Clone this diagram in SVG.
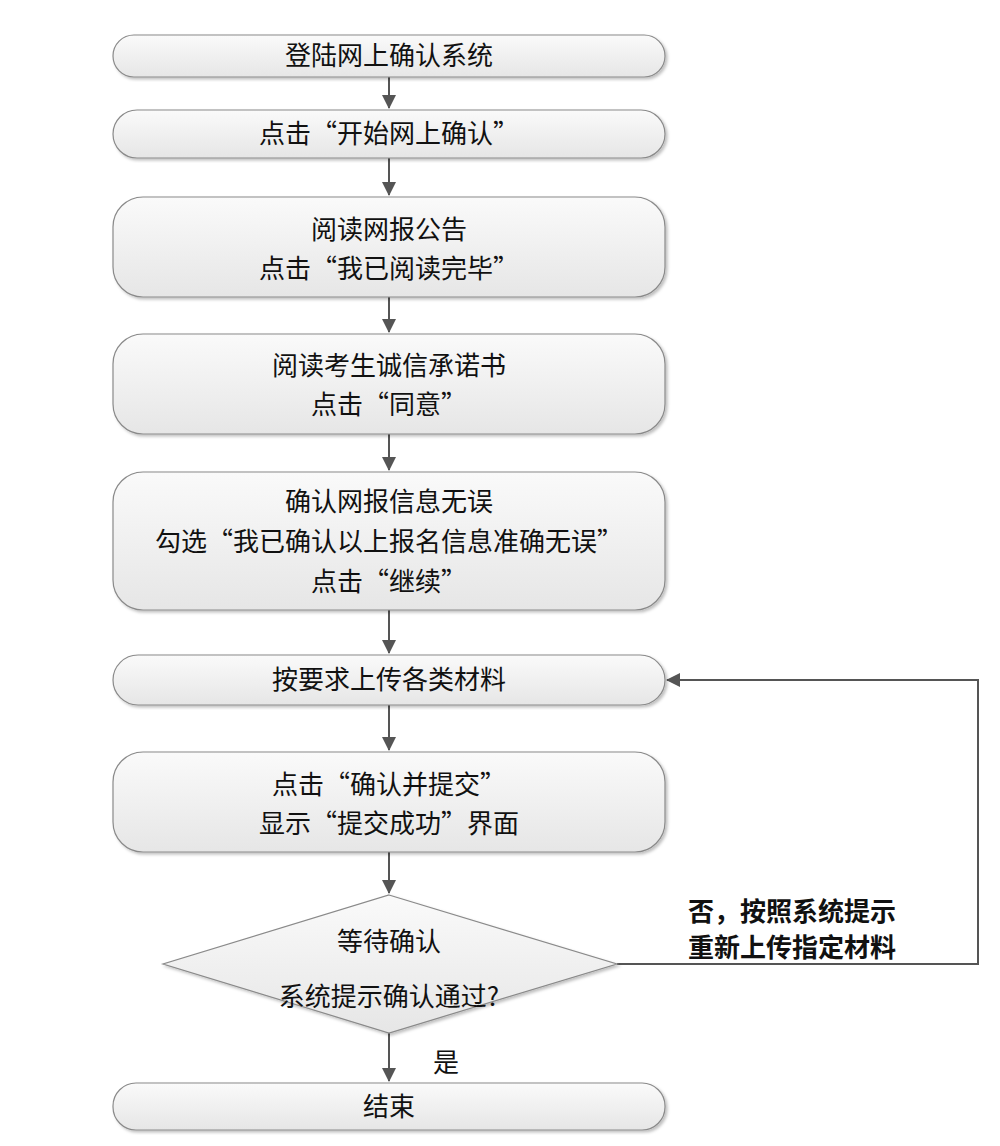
<svg xmlns="http://www.w3.org/2000/svg" width="1000" height="1146" viewBox="0 0 1000 1146">
<style>
.n{fill:url(#g);stroke:#8a8a8a;stroke-width:1.2}
text{font-family:"Noto Sans CJK SC","Liberation Sans",sans-serif;font-size:26px;fill:#111;text-anchor:middle}
.b{font-weight:bold;text-anchor:start}
.c{stroke:#555;stroke-width:2;fill:none}
</style>
<defs>
<linearGradient id="g" x1="0" y1="0" x2="0" y2="1"><stop offset="0" stop-color="#fafafa"/><stop offset="1" stop-color="#e6e6e6"/></linearGradient>
<marker id="a" markerWidth="14" markerHeight="14" refX="13" refY="7" orient="auto" markerUnits="userSpaceOnUse" viewBox="0 0 14 14"><path d="M0,0L14,7L0,14z" fill="#555"/></marker>
<filter id="s"><feDropShadow dx="2" dy="2" stdDeviation="1.5" flood-color="#000" flood-opacity="0.25"/></filter>
</defs>
<rect width="1000" height="1146" fill="#fff"/>
<g id="connectors">
<path class="c" marker-end="url(#a)" d="M389,77V108"/>
<path class="c" marker-end="url(#a)" d="M389,158V195"/>
<path class="c" marker-end="url(#a)" d="M389,297V332"/>
<path class="c" marker-end="url(#a)" d="M389,434V470"/>
<path class="c" marker-end="url(#a)" d="M389,610V653"/>
<path class="c" marker-end="url(#a)" d="M389,705V750"/>
<path class="c" marker-end="url(#a)" d="M389,852V893"/>
<path class="c" marker-end="url(#a)" d="M389,1032V1081"/>
<path class="c" marker-end="url(#a)" d="M617,964H978V680H667"/>
<text x="446" y="1072">是</text>
<text class="b" x="688" y="921">否，按照系统提示</text>
<text class="b" x="688" y="957">重新上传指定材料</text>
</g>
<g id="n1"><rect class="n" filter="url(#s)" x="113" y="35" width="552" height="42" rx="21"/><text x="389" y="65">登陆网上确认系统</text></g>
<g id="n2"><rect class="n" filter="url(#s)" x="113" y="110" width="552" height="48" rx="24"/><text x="389" y="143">点击“开始网上确认”</text></g>
<g id="n3"><rect class="n" filter="url(#s)" x="113" y="197" width="552" height="100" rx="30"/><text x="389" y="239">阅读网报公告</text><text x="389" y="278">点击“我已阅读完毕”</text></g>
<g id="n4"><rect class="n" filter="url(#s)" x="113" y="334" width="552" height="100" rx="30"/><text x="389" y="375">阅读考生诚信承诺书</text><text x="389" y="414">点击“同意”</text></g>
<g id="n5"><rect class="n" filter="url(#s)" x="113" y="472" width="552" height="138" rx="30"/><text x="389" y="511">确认网报信息无误</text><text x="389" y="551">勾选“我已确认以上报名信息准确无误”</text><text x="389" y="591">点击“继续”</text></g>
<g id="n6"><rect class="n" filter="url(#s)" x="113" y="655" width="552" height="50" rx="25"/><text x="389" y="689">按要求上传各类材料</text></g>
<g id="n7"><rect class="n" filter="url(#s)" x="113" y="752" width="552" height="100" rx="30"/><text x="389" y="794">点击“确认并提交”</text><text x="389" y="833">显示“提交成功”界面</text></g>
<g id="n8"><polygon class="n" filter="url(#s)" points="389,895 617,964 389,1033 163,964"/><text x="389" y="951">等待确认</text><text x="389" y="1006">系统提示确认通过?</text></g>
<g id="n9"><rect class="n" filter="url(#s)" x="113" y="1083" width="552" height="47" rx="23"/><text x="389" y="1116">结束</text></g>
</svg>
